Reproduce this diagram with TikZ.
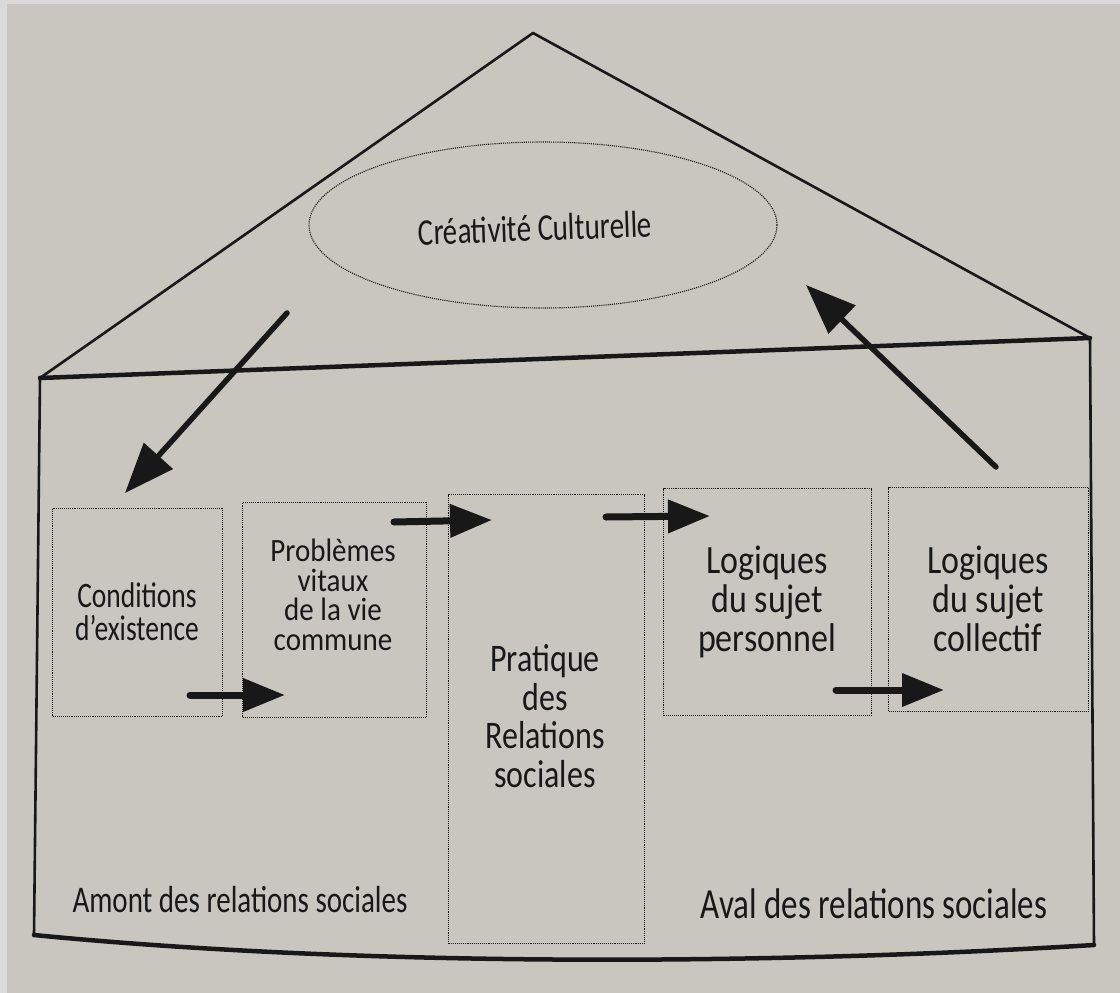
\documentclass[tikz,border=0pt]{standalone}
\usepackage{fontspec}
\usepackage{graphicx}
\setmainfont{Carlito}
\usetikzlibrary{arrows.meta,shapes.geometric}
\definecolor{paper}{RGB}{201,198,192}
\definecolor{rim}{RGB}{218,218,218}
\definecolor{ink}{RGB}{24,24,24}
\newcommand\tallw[2][1.3]{\scalebox{1}[#1]{#2}}
\newcommand\fsz[2]{\fontsize{#1}{#2}\selectfont\lineskiplimit=-60pt\relax}
\begin{document}
\begin{tikzpicture}[x=1pt,y=-1pt,
  boxst/.style={draw=ink,densely dotted,line width=1.1pt,inner sep=0pt,anchor=north west},
  lbl/.style={align=center,text=ink,inner sep=0pt},
  wall/.style={draw=ink,line width=2.6pt,line join=round},
  beam/.style={draw=ink,line width=4.5pt,line cap=round},
  harrow/.style={draw=ink,line width=7pt,line cap=round,-{Triangle[length=42pt,width=32pt]}},
  darrow/.style={draw=ink,line width=5.5pt,line cap=round,-{Triangle[length=50pt,width=38pt]}}]
\fill[paper] (0,0) rectangle (1120,993);
\fill[rim] (0,0) rectangle (7,993);
\fill[rim] (0,0) rectangle (1120,4);
\useasboundingbox (0,0) rectangle (1120,993);

% house outline
\coordinate (apex) at (533,33);
\coordinate (eaveL) at (40,378);
\coordinate (eaveR) at (1090,338);
\coordinate (footL) at (34,935);
\coordinate (footR) at (1094,945);
\draw[wall] (eaveL) -- (apex) -- (eaveR);
\draw[wall] (eaveL) -- (footL);
\draw[wall] (eaveR) -- (footR);
\draw[beam] (eaveL) -- (eaveR);
\draw[beam] (footL) .. controls (350,966) and (750,966) .. (footR);

% ellipse
\node[draw=ink,densely dotted,line width=1.1pt,ellipse,minimum width=468pt,minimum height=166pt] (crea) at (543,225) {};
\node[lbl,font=\fsz{29}{34},rotate=2] (creat) at (535,228) {\tallw{Créativité Culturelle}};

% boxes
\node[boxst,minimum width=170pt,minimum height=208pt] (b1) at (52,508) {};
\node[boxst,minimum width=184pt,minimum height=215pt] (b2) at (242,502) {};
\node[boxst,minimum width=196pt,minimum height=449pt] (b3) at (448,494) {};
\node[boxst,minimum width=208pt,minimum height=227pt] (b4) at (663,488) {};
\node[boxst,minimum width=200pt,minimum height=224pt] (b5) at (888,487) {};

% texts
\node[lbl,font=\fsz{27.5}{33}] (t1) at (137,612) {\tallw{Conditions}\\\tallw{d'existence}};
\node[lbl,font=\fsz{29}{29.5}] (t2) at (333,595) {\tallw[1.12]{Problèmes}\\\tallw[1.12]{vitaux}\\\tallw[1.12]{de la vie}\\\tallw[1.12]{commune}};
\node[lbl,font=\fsz{32}{38.5}] (t3) at (545,716) {\tallw[1.22]{Pratique}\\\tallw[1.22]{des}\\\tallw[1.22]{Relations}\\\tallw[1.22]{sociales}};
\node[lbl,font=\fsz{34}{39}] (t4) at (767,602) {\tallw[1.18]{Logiques}\\\tallw[1.18]{du sujet}\\\tallw[1.18]{personnel}};
\node[lbl,font=\fsz{34}{39}] (t5) at (988,599) {\tallw[1.18]{Logiques}\\\tallw[1.18]{du sujet}\\\tallw[1.18]{collectif}};
\node[lbl,font=\fsz{29}{33}] (amont) at (240,900) {\tallw{Amont des relations sociales}};
\node[lbl,font=\fsz{33}{37}] (aval) at (874,904) {\tallw{Aval des relations sociales}};

% arrows
\coordinate (a1s) at (190,695); \coordinate (a1e) at (285,695);
\coordinate (a2s) at (394,522); \coordinate (a2e) at (492,520);
\coordinate (a3s) at (606,517); \coordinate (a3e) at (710,516);
\coordinate (a4s) at (836,690); \coordinate (a4e) at (944,690);
\draw[harrow] (a1s) -- (a1e);
\draw[harrow] (a2s) -- (a2e);
\draw[harrow] (a3s) -- (a3e);
\draw[harrow] (a4s) -- (a4e);
\coordinate (d1s) at (287,313); \coordinate (d1e) at (125,493);
\coordinate (d2s) at (996,467); \coordinate (d2e) at (806,285);
\draw[darrow] (d1s) -- (d1e);
\draw[darrow] (d2s) -- (d2e);
\end{tikzpicture}
\end{document}
